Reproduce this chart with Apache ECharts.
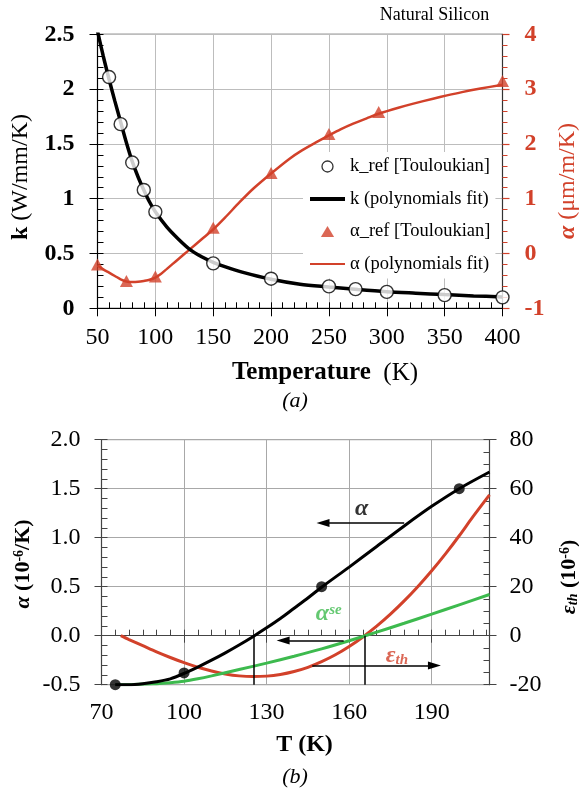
<!DOCTYPE html>
<html><head><meta charset="utf-8">
<script src="https://cdn.jsdelivr.net/npm/echarts@6/dist/echarts.min.js"></script>
<style>html,body{margin:0;padding:0;background:#fff}#c{width:579px;height:794px}</style>
</head><body><div id="c"></div>
<script>
// ---------- (a) top chart data ----------
const kRefT = [60,70,80,90,100,150,200,250,273,300,350,400];
const kRefV = [2.11,1.68,1.33,1.08,0.88,0.41,0.27,0.2,0.175,0.15,0.12,0.1];
const kFitT = [50,55,60,65,70,75,80,85,90,95,100,110,120,130,140,150,160,175,200,225,250,275,300,325,350,375,400];
const kFitV = [2.53,2.30,2.09,1.89,1.70,1.51,1.34,1.20,1.08,0.97,0.88,0.74,0.63,0.535,0.47,0.42,0.38,0.33,0.265,0.22,0.195,0.172,0.152,0.138,0.125,0.113,0.104];
const aRefT = [50,75,100,150,200,250,293,400];
const aRefV = [-0.2,-0.5,-0.42,0.47,1.47,2.18,2.58,3.15];
const aFitT = [50,55,60,65,70,75,80,85,90,95,100,105,110,115,120,125,130,140,150,160,173,185,200,216,225,240,250,260,271,283,293,310,323,340,352,365,381,400];
const aFitV = [-0.22,-0.29,-0.35,-0.41,-0.47,-0.51,-0.52,-0.515,-0.50,-0.48,-0.44,-0.37,-0.28,-0.19,-0.10,-0.01,0.08,0.26,0.44,0.65,0.94,1.19,1.46,1.73,1.86,2.04,2.155,2.265,2.37,2.47,2.55,2.66,2.735,2.825,2.885,2.945,3.01,3.08];
const legendNames = ['k_ref [Touloukian]','k (polynomials fit)','α_ref [Touloukian]','α (polynomials fit)'];

// ---------- (b) bottom chart data ----------
const bT = [75,80,85,90,95,100,105,110,115,120,125,130,135,140,145,150,160,170,180,190,200,211];
const alphaV = [-0.5,-0.5,-0.49,-0.47,-0.44,-0.385,-0.32,-0.25,-0.175,-0.095,-0.01,0.08,0.175,0.28,0.385,0.495,0.70,0.91,1.12,1.32,1.5,1.67];
const dotT = [75,100,150,200];
const dotV = [-0.5,-0.38,0.5,1.5];
const seT = [75,80,90,95,100,105,110,120,130,140,150,160,170,180,190,200,211];
const seV = [-0.5,-0.5,-0.49,-0.48,-0.465,-0.44,-0.41,-0.345,-0.28,-0.21,-0.135,-0.052,0.036,0.127,0.22,0.315,0.42];
const epsT = [77,80,85,90,95,100,105,110,115,120,125,130,135,140,145,150,155,160,165,170,175,180,185,190,195,200,205,211];
const epsV = [0,-1.6,-4.1,-6.6,-8.9,-11.0,-12.9,-14.4,-15.6,-16.4,-16.7,-16.5,-15.8,-14.6,-12.9,-10.6,-7.8,-4.4,-0.5,3.9,8.8,14.2,20.1,26.5,33.4,40.8,48.6,57.5];
const vLineT = [125.5, 165.7];
const vLineFrom = -0.5, vLineTo = 0;
const alphaArrow = [[180,1.15],[150.5,1.15]];
const alphaSeArrow = [[158,-0.05],[136,-0.05]];
const epsArrow = [[146.6,-12.2],[191,-12.2]];
const alphaLabelPos = [164.5,1.3];
const alphaSeLabelPos = [147.9,0.22];
const epsLabelPos = [173.3,-0.2];

// ticks
const topX = {min:50,max:400,step:50,minor:10};
const topYL = {min:0,max:2.5,step:0.5,minor:0.1};
const topYR = {min:-1,max:4,step:1};
const botX = {min:70,max:211,step:30,minor:5};
const botYL = {min:-0.5,max:2.0,step:0.5,minor:0.1};
const botYR = {min:-20,max:80,step:20,minor:5};

const zip = (a,b) => a.map((v,i)=>[v,b[i]]);
const FF = 'Liberation Serif';
const RED = '#d2412a', GREEN = '#3dba4e';
const SM = 0.3;

function overlay(grid, r, pos, color){
  return {type:'value', gridIndex:grid, min:r.min, max:r.max, interval:r.minor, position:pos,
    axisLine:{show:false}, axisLabel:{show:false}, splitLine:{show:false},
    axisTick:{show:true, inside:true, length:6, lineStyle:{color:color, width:1}}};
}

const option = {
  animation:false,
  backgroundColor:'#fff',
  grid:[
    {left:97.5, top:34.3, width:405, height:274, show:true, borderColor:'#000', borderWidth:1},
    {left:101.5, top:439.7, width:388, height:245, show:true, borderColor:'#888', borderWidth:1}
  ],
  legend:{
    orient:'vertical', left:303, top:152, padding:5, symbolKeepAspect:true,
    itemWidth:35, itemHeight:11, itemGap:13.5, backgroundColor:'#fff',
    textStyle:{fontFamily:FF, fontSize:18.5, color:'#000', lineHeight:18},
    data:[
      {name:legendNames[0], icon:'circle', itemStyle:{color:'#fff', borderColor:'#000', borderWidth:1.3}},
      {name:legendNames[1], itemStyle:{opacity:0}, lineStyle:{color:'#000', width:4, opacity:1}},
      {name:legendNames[2], icon:'path://M6,0L12,10L0,10Z', itemStyle:{color:RED}},
      {name:legendNames[3], itemStyle:{opacity:0}, lineStyle:{color:RED, width:2.2, opacity:1}}
    ]
  },
  xAxis:[
    {type:'value', gridIndex:0, min:topX.min, max:topX.max, interval:topX.step,
     axisLine:{lineStyle:{color:'#000', width:1.2}}, axisTick:{length:8, lineStyle:{color:'#000'}},
     axisLabel:{margin:17, fontFamily:FF, fontSize:24, color:'#000'},
     splitLine:{show:true, lineStyle:{color:'#bdbdbd', width:1}}},
    overlay(0,topX,'bottom','#000'),
    {type:'value', gridIndex:1, min:botX.min, max:botX.max, interval:botX.step,
     axisLine:{lineStyle:{color:'#444', width:1.2}}, axisTick:{length:7, lineStyle:{color:'#444'}},
     axisLabel:{margin:16, fontFamily:FF, fontSize:24, color:'#000', showMaxLabel:false},
     splitLine:{show:true, lineStyle:{color:'#a8a8a8', width:1}}},
    overlay(1,botX,'bottom','#444')
  ],
  yAxis:[
    {type:'value', gridIndex:0, position:'left', min:topYL.min, max:topYL.max, interval:topYL.step,
     axisLine:{lineStyle:{color:'#000', width:1.2}}, axisTick:{length:8, lineStyle:{color:'#000'}},
     axisLabel:{margin:23, fontFamily:FF, fontSize:24, fontWeight:'bold', color:'#000'},
     splitLine:{show:true, lineStyle:{color:'#bdbdbd', width:1}}},
    overlay(0,topYL,'left','#000'),
    {type:'value', gridIndex:0, position:'right', min:topYR.min, max:topYR.max, interval:topYR.step,
     axisLine:{show:true, lineStyle:{color:'#333', width:1.2}}, axisTick:{length:7, lineStyle:{color:RED, width:1.2}},
     minorTick:{show:true, splitNumber:5, length:5, lineStyle:{color:RED, width:1}},
     axisLabel:{margin:22, fontFamily:FF, fontSize:24, fontWeight:'bold', color:RED},
     splitLine:{show:false}},
    {type:'value', gridIndex:1, position:'left', min:botYL.min, max:botYL.max, interval:botYL.step,
     axisLine:{lineStyle:{color:'#444', width:1.2}}, axisTick:{length:7, lineStyle:{color:'#444'}},
     axisLabel:{margin:21, fontFamily:FF, fontSize:24, color:'#000', formatter:v=>v.toFixed(1)},
     splitLine:{show:true, lineStyle:{color:'#a8a8a8', width:1}}},
    overlay(1,botYL,'left','#444'),
    {type:'value', gridIndex:1, position:'right', min:botYR.min, max:botYR.max, interval:botYR.step,
     axisLine:{show:true, lineStyle:{color:'#444', width:1.2}}, axisTick:{length:7, lineStyle:{color:'#444'}},
     axisLabel:{margin:20, fontFamily:FF, fontSize:24, color:'#000'},
     splitLine:{show:false}},
    overlay(1,botYR,'right','#444')
  ],
  series:[
    {name:legendNames[3], type:'line', xAxisIndex:0, yAxisIndex:2, data:zip(aFitT,aFitV),
     symbol:'none', smooth:SM, lineStyle:{color:RED, width:2.5}, itemStyle:{color:RED}, z:3},
    {name:legendNames[1], type:'line', xAxisIndex:0, yAxisIndex:0, data:zip(kFitT,kFitV),
     symbol:'none', smooth:SM, lineStyle:{color:'#000', width:3.5}, itemStyle:{color:'#000'}, z:3},
    {name:legendNames[2], type:'scatter', xAxisIndex:0, yAxisIndex:2, data:zip(aRefT,aRefV),
     symbol:'triangle', symbolSize:[13,12], itemStyle:{color:RED}, z:4},
    {name:legendNames[0], type:'scatter', xAxisIndex:0, yAxisIndex:0, data:zip(kRefT,kRefV),
     symbol:'circle', symbolSize:13, itemStyle:{color:'#fff', borderColor:'#000', borderWidth:1.4}, z:4},

    // bottom chart
    {name:'eps', type:'line', xAxisIndex:2, yAxisIndex:5, data:zip(epsT,epsV),
     symbol:'none', smooth:SM, lineStyle:{color:RED, width:3}, z:3,
     markLine:{silent:true, symbol:['none','triangle'], symbolSize:[8,13], label:{show:false},
       lineStyle:{color:'#000', width:1.5, type:'solid'},
       data:[[{coord:epsArrow[0]},{coord:epsArrow[1]}]]}},
    {name:'ase', type:'line', xAxisIndex:2, yAxisIndex:3, data:zip(seT,seV),
     symbol:'none', smooth:SM, lineStyle:{color:GREEN, width:3}, z:3},
    {name:'alpha', type:'line', xAxisIndex:2, yAxisIndex:3, data:zip(bT,alphaV),
     symbol:'none', smooth:SM, lineStyle:{color:'#000', width:3}, z:4,
     markLine:{silent:true, symbol:['none','none'], label:{show:false},
       lineStyle:{color:'#000', width:1.5, type:'solid'},
       data:[
         ...vLineT.map(t=>[{coord:[t,vLineFrom]},{coord:[t,vLineTo]}]),
         [{coord:alphaArrow[0], symbol:'none'},{coord:alphaArrow[1], symbol:'triangle', symbolSize:[8,13]}],
         [{coord:alphaSeArrow[0], symbol:'none'},{coord:alphaSeArrow[1], symbol:'triangle', symbolSize:[8,13]}]
       ]}},
    {name:'dots', type:'scatter', xAxisIndex:2, yAxisIndex:3, data:zip(dotT,dotV),
     symbol:'circle', symbolSize:11, itemStyle:{color:'#000'}, z:5},
    {name:'labels', type:'scatter', xAxisIndex:2, yAxisIndex:3, symbolSize:0, silent:true, z:6,
     data:[
       {value:alphaLabelPos, label:{show:true, position:[0,0], align:'center', verticalAlign:'middle',
          formatter:'{a|α}', rich:{a:{fontFamily:FF, fontSize:24, fontWeight:'bold', fontStyle:'italic', color:'#000'}}}},
       {value:alphaSeLabelPos, label:{show:true, position:[0,0], align:'left', verticalAlign:'middle',
          formatter:'{a|α}{s|se}', rich:{a:{fontFamily:FF, fontSize:24, fontWeight:'bold', fontStyle:'italic', color:GREEN},
                                         s:{fontFamily:FF, fontSize:15, fontWeight:'bold', fontStyle:'italic', color:GREEN, verticalAlign:'top'}}}},
       {value:epsLabelPos, label:{show:true, position:[0,0], align:'left', verticalAlign:'middle',
          formatter:'{a|ε}{s|th}', rich:{a:{fontFamily:FF, fontSize:24, fontWeight:'bold', fontStyle:'italic', color:RED},
                                         s:{fontFamily:FF, fontSize:15, fontWeight:'bold', fontStyle:'italic', color:RED, verticalAlign:'bottom'}}}}
     ]}
  ],
  graphic:[
    {type:'text', x:434.5, y:15, style:{text:'Natural Silicon', fontFamily:FF, fontSize:18, fill:'#000', align:'center', verticalAlign:'middle'}},
    {type:'text', x:21, y:177, rotation:Math.PI/2, style:{text:'{b|k}{r| (W/mm/K)}', align:'center', verticalAlign:'middle',
      rich:{b:{fontFamily:FF, fontSize:24, fontWeight:'bold', fill:'#000'}, r:{fontFamily:FF, fontSize:24, fill:'#000'}}}},
    {type:'text', x:568, y:181, rotation:Math.PI/2, style:{text:'{a|α}{r| (μm/m/K)}', align:'center', verticalAlign:'middle',
      rich:{a:{fontFamily:FF, fontSize:24, fontWeight:'bold', fontStyle:'italic', fill:RED}, r:{fontFamily:FF, fontSize:24, fill:RED}}}},
    {type:'text', x:325, y:373, style:{text:'{b|Temperature}{r|  (K)}', align:'center', verticalAlign:'middle',
      rich:{b:{fontFamily:FF, fontSize:25, fontWeight:'bold', fill:'#000'}, r:{fontFamily:FF, fontSize:25, fill:'#000'}}}},
    {type:'text', x:295, y:401, style:{text:'(a)', fontFamily:FF, fontSize:22, fontStyle:'italic', fill:'#000', align:'center', verticalAlign:'middle'}},
    {type:'text', x:23, y:564, rotation:Math.PI/2, style:{text:'{a|α}{r| (10}{s|-6}{r|/K)}', align:'center', verticalAlign:'middle',
      rich:{a:{fontFamily:FF, fontSize:22, fontWeight:'bold', fontStyle:'italic', fill:'#000'},
            r:{fontFamily:FF, fontSize:22, fontWeight:'bold', fill:'#000'},
            s:{fontFamily:FF, fontSize:14, fontWeight:'bold', fill:'#000', verticalAlign:'top'}}}},
    {type:'text', x:569, y:577, rotation:Math.PI/2, style:{text:'{a|ε}{t|th}{r| (10}{s|-6}{r|)}', align:'center', verticalAlign:'middle',
      rich:{a:{fontFamily:FF, fontSize:22, fontWeight:'bold', fontStyle:'italic', fill:'#000'},
            t:{fontFamily:FF, fontSize:14, fontWeight:'bold', fontStyle:'italic', fill:'#000', verticalAlign:'bottom'},
            r:{fontFamily:FF, fontSize:22, fontWeight:'bold', fill:'#000'},
            s:{fontFamily:FF, fontSize:14, fontWeight:'bold', fill:'#000', verticalAlign:'top'}}}},
    {type:'text', x:304.5, y:745, style:{text:'T (K)', fontFamily:FF, fontSize:24, fontWeight:'bold', fill:'#000', align:'center', verticalAlign:'middle'}},
    {type:'text', x:295, y:777, style:{text:'(b)', fontFamily:FF, fontSize:22, fontStyle:'italic', fill:'#000', align:'center', verticalAlign:'middle'}}
  ]
};
const chart = echarts.init(document.getElementById('c'), null, {renderer:'canvas'});
chart.setOption(option);
</script></body></html>
